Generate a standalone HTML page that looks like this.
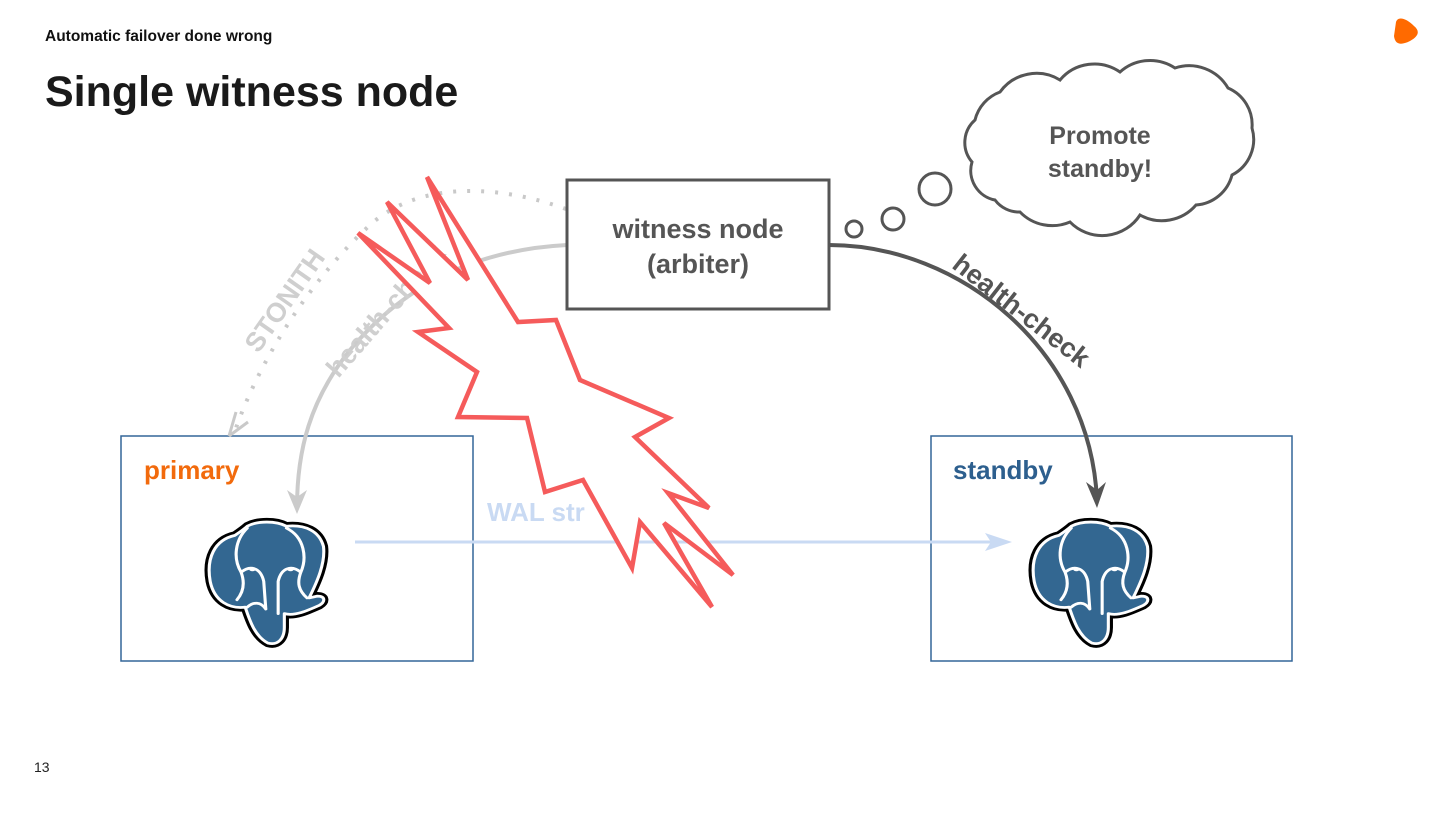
<!DOCTYPE html>
<html><head><meta charset="utf-8"><style>
html,body{margin:0;padding:0;background:#fff;}
body{width:1440px;height:810px;position:relative;overflow:hidden;font-family:"Liberation Sans",Helvetica,Arial,sans-serif;}
</style></head><body>
<svg width="1440" height="810" viewBox="0 0 1440 810" xmlns="http://www.w3.org/2000/svg" font-family="Liberation Sans, Arial, sans-serif">
<defs>
<g id="ele">
  <path d="M30,20 C10,25 2,45 6,70 C10,92 25,100 40,98 C45,115 50,130 62,137 C72,140 78,132 78,120 L78,105 C88,108 100,102 112,96 C118,92 118,86 110,86 L102,88 C110,70 118,50 116,32 C112,15 98,8 80,10 C70,4 52,4 42,10 C38,14 34,17 30,20 Z" fill="#336791" stroke="#000" stroke-width="9" stroke-linejoin="round"/>
  <path d="M30,20 C10,25 2,45 6,70 C10,92 25,100 40,98 C45,115 50,130 62,137 C72,140 78,132 78,120 L78,105 C88,108 100,102 112,96 C118,92 118,86 110,86 L102,88 C110,70 118,50 116,32 C112,15 98,8 80,10 C70,4 52,4 42,10 C38,14 34,17 30,20 Z" fill="#336791" stroke="#fff" stroke-width="3" stroke-linejoin="round"/>
  <path d="M42,12 C30,25 28,45 36,60 C40,72 38,82 32,90 M80,12 C98,22 100,45 94,60 C90,72 92,80 100,88 M36,60 C45,52 55,55 58,70 L60,100 M94,60 C85,52 75,55 72,70 L72,105 M42,98 C48,92 55,92 60,100" fill="none" stroke="#fff" stroke-width="3" stroke-linecap="round"/>
  <ellipse cx="47" cy="57" rx="3" ry="2" fill="#fff"/><ellipse cx="84" cy="57" rx="3" ry="2" fill="#fff"/>
</g>
</defs>

<text x="45" y="41" font-size="15.5" font-weight="bold" fill="#111">Automatic failover done wrong</text>
<text x="45" y="106" font-size="43" font-weight="bold" fill="#1a1a1a">Single witness node</text>
<text x="34" y="772" font-size="14" fill="#222">13</text>
<path d="M1396,22 C1398,16 1406,18 1414,26 C1420,31 1419,36 1410,41 C1400,46 1395,44 1394,36 Z" fill="#ff6a00"/>

<!-- boxes -->
<rect x="121" y="436" width="352" height="225" fill="none" stroke="#336699" stroke-width="1.5"/>
<rect x="931" y="436" width="361" height="225" fill="none" stroke="#336699" stroke-width="1.5"/>
<text x="144" y="479" font-size="26" font-weight="bold" fill="#f26a0c">primary</text>
<text x="953" y="479" font-size="26" font-weight="bold" fill="#2d5f8e">standby</text>

<!-- WAL -->
<text x="487" y="521" font-size="26" font-weight="bold" fill="#c9daf3">WAL str</text>
<line x1="355" y1="542" x2="1000" y2="542" stroke="#c9daf3" stroke-width="3"/>
<path d="M985,533 L1012,542 L985,551 L991,542 Z" fill="#c9daf3"/>

<!-- stonith dotted -->
<path d="M566,209 C500,185 420,180 370,225 C310,280 260,360 236,428" fill="none" stroke="#c9c9c9" stroke-width="4" stroke-dasharray="3 11"/>
<path d="M229,436 L236,412 M229,436 L248,422" stroke="#c9c9c9" stroke-width="3" fill="none"/>
<!-- left health-check -->
<path d="M567,245 C470,250 400,290 350,350 C310,400 297,450 297,508" fill="none" stroke="#cbcbcb" stroke-width="4"/>
<path d="M297,514 L287,490 L297,497 L307,490 Z" fill="#cbcbcb"/>
<text transform="translate(284,300) rotate(-55)" text-anchor="middle" font-size="27" font-weight="bold" fill="#cfcfcf" x="0" y="10">STONITH</text>
<text transform="translate(385,310) rotate(-49)" text-anchor="middle" font-size="27" font-weight="bold" fill="#cfcfcf" x="0" y="10">health-check</text>

<!-- right health-check -->
<path d="M829,245 C960,245 1090,350 1097,500" fill="none" stroke="#555" stroke-width="4"/>
<path d="M1097,508 L1086,482 L1097,490 L1106,482 Z" fill="#555"/>
<text transform="translate(1022,310) rotate(38)" text-anchor="middle" font-size="27" font-weight="bold" fill="#555" x="0" y="10">health-check</text>

<!-- witness -->
<rect x="567" y="180" width="262" height="129" fill="#fff" stroke="#555" stroke-width="3"/>
<text x="698" y="238" text-anchor="middle" font-size="27" font-weight="bold" fill="#555">witness node</text>
<text x="698" y="273" text-anchor="middle" font-size="27" font-weight="bold" fill="#555">(arbiter)</text>

<!-- bolt -->
<polygon points="427,177 468,280 387,202 430,283 358,233 449,328 418,332 477,372 458,417 527,418 545,492 583,480 632,568 640,522 712,607 664,523 733,575 668,493 709,508 635,437 669,418 580,380 556,320 518,322" fill="#fff" stroke="#f55b5b" stroke-width="4.5" stroke-linejoin="miter"/>

<!-- cloud -->
<circle cx="935" cy="189" r="16" fill="#fff" stroke="#555" stroke-width="3"/>
<circle cx="893" cy="219" r="11" fill="#fff" stroke="#555" stroke-width="3"/>
<circle cx="854" cy="229" r="8" fill="#fff" stroke="#555" stroke-width="3"/>
<path d="M995,200 A30 30 0 0 1 972,162 A30 30 0 0 1 975,120 A40 40 0 0 1 1000,92 A45 45 0 0 1 1060,80 A45 45 0 0 1 1120,72 A45 45 0 0 1 1175,68 A45 45 0 0 1 1228,88 A40 40 0 0 1 1252,128 A40 40 0 0 1 1232,175 A40 40 0 0 1 1196,205 A45 45 0 0 1 1140,215 A45 45 0 0 1 1070,222 A45 45 0 0 1 1020,212 A30 30 0 0 1 995,200 Z" fill="#fff" stroke="#555" stroke-width="3"/>
<text x="1100" y="144" text-anchor="middle" font-size="25" font-weight="bold" fill="#555">Promote</text>
<text x="1100" y="177" text-anchor="middle" font-size="25" font-weight="bold" fill="#555">standby!</text>

<use href="#ele" transform="translate(204,517) scale(1.03,0.92)"/>
<use href="#ele" transform="translate(1028,517) scale(1.03,0.92)"/>
</svg>
</body></html>
